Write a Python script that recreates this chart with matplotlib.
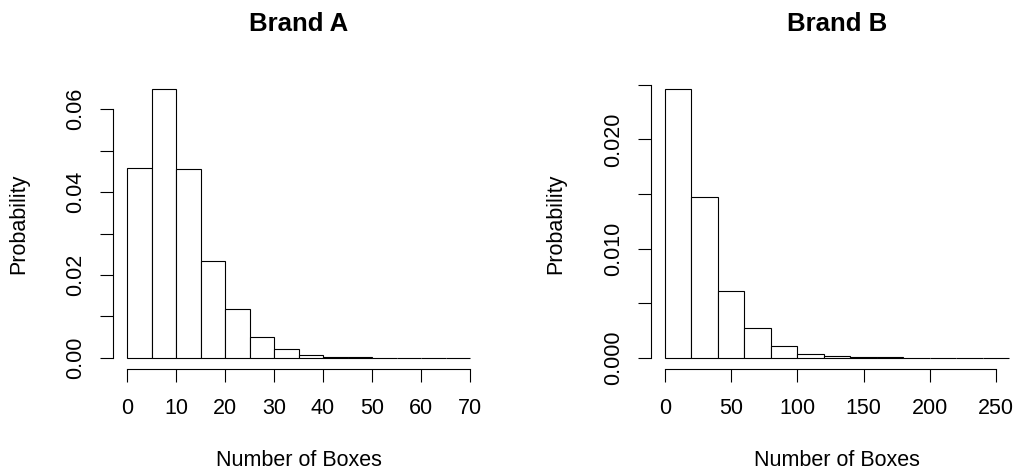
import matplotlib
matplotlib.use("Agg")
import matplotlib.pyplot as plt
import numpy as np

plt.rcParams['font.family'] = ['Liberation Sans', 'DejaVu Sans']

# histogram densities
breaks_a = list(range(0, 75, 5))
dens_a = [0.04575, 0.0648, 0.0455, 0.02336, 0.01169, 0.0050, 0.00217,
          0.00057, 0.00020, 0.00010, 0.00005, 0.00003, 0.00001, 0.00001]
breaks_b = list(range(0, 280, 20))
dens_b = [0.02458, 0.01472, 0.00611, 0.00272, 0.00110, 0.00037, 0.00016,
          0.00005, 0.00003, 0.00002, 0.00001, 0.00001, 0.00001]

xticks_a = [0, 10, 20, 30, 40, 50, 60, 70]
yticks_a = [0.00, 0.01, 0.02, 0.03, 0.04, 0.05, 0.06]
ylabels_a = ["0.00", "", "0.02", "", "0.04", "", "0.06"]
xticks_b = [0, 50, 100, 150, 200, 250]
yticks_b = [0.000, 0.005, 0.010, 0.015, 0.020, 0.025]
ylabels_b = ["0.000", "", "0.010", "", "0.020", ""]

W, H = 1014, 472
fig = plt.figure(figsize=(W / 100, H / 100), dpi=100)


def panel(left_px, px_per_unit, breaks, dens, xticks, yticks, ylabels, title):
    x0, x1 = breaks[0], breaks[-1]
    ext = 0.04 * (x1 - x0)
    xlim = (x0 - ext, x1 + ext)
    ymax = max(dens)
    ylim = (-0.04 * ymax, 1.04 * ymax)
    top_px, bot_px = 78.7, 368.5
    width_px = (xlim[1] - xlim[0]) * px_per_unit
    ax = fig.add_axes([left_px / W, (H - bot_px) / H, width_px / W,
                       (bot_px - top_px) / H])
    ax.bar(breaks[:-1], dens, width=np.diff(breaks), align='edge',
           facecolor='white', edgecolor='black', linewidth=0.8)
    ax.set_xlim(*xlim)
    ax.set_ylim(*ylim)
    for s in ['top', 'right']:
        ax.spines[s].set_visible(False)
    ax.spines['left'].set_bounds(yticks[0], yticks[-1])
    ax.spines['bottom'].set_bounds(xticks[0], xticks[-1])
    for s in ['left', 'bottom']:
        ax.spines[s].set_linewidth(0.8)
    ax.set_xticks(xticks)
    ax.set_xticklabels([str(t) for t in xticks])
    ax.set_yticks(yticks)
    ax.set_yticklabels(ylabels, rotation=90, va='center')
    ax.tick_params(axis='both', direction='out', length=9.4, width=0.8,
                   labelsize=15.5)
    ax.tick_params(axis='x', pad=12)
    ax.tick_params(axis='y', pad=10)
    cx = (left_px + width_px / 2) / W
    fig.text(cx, 1 - 24 / H, title, ha='center', va='center',
             fontsize=18.5, fontweight='bold')
    fig.text(cx, 1 - 461 / H, "Number of Boxes", ha='center',
             va='center', fontsize=15.5)
    fig.text((left_px - 95) / W, (H - (top_px + bot_px) / 2) / H,
             "Probability", ha='center', va='center', rotation=90,
             fontsize=15.5)
    return ax


panel(113.3, 4.9, breaks_a, dens_a, xticks_a, yticks_a, ylabels_a, "Brand A")
panel(651.2, 1.324, breaks_b, dens_b, xticks_b, yticks_b, ylabels_b, "Brand B")

fig.savefig("out.png", dpi=100)
